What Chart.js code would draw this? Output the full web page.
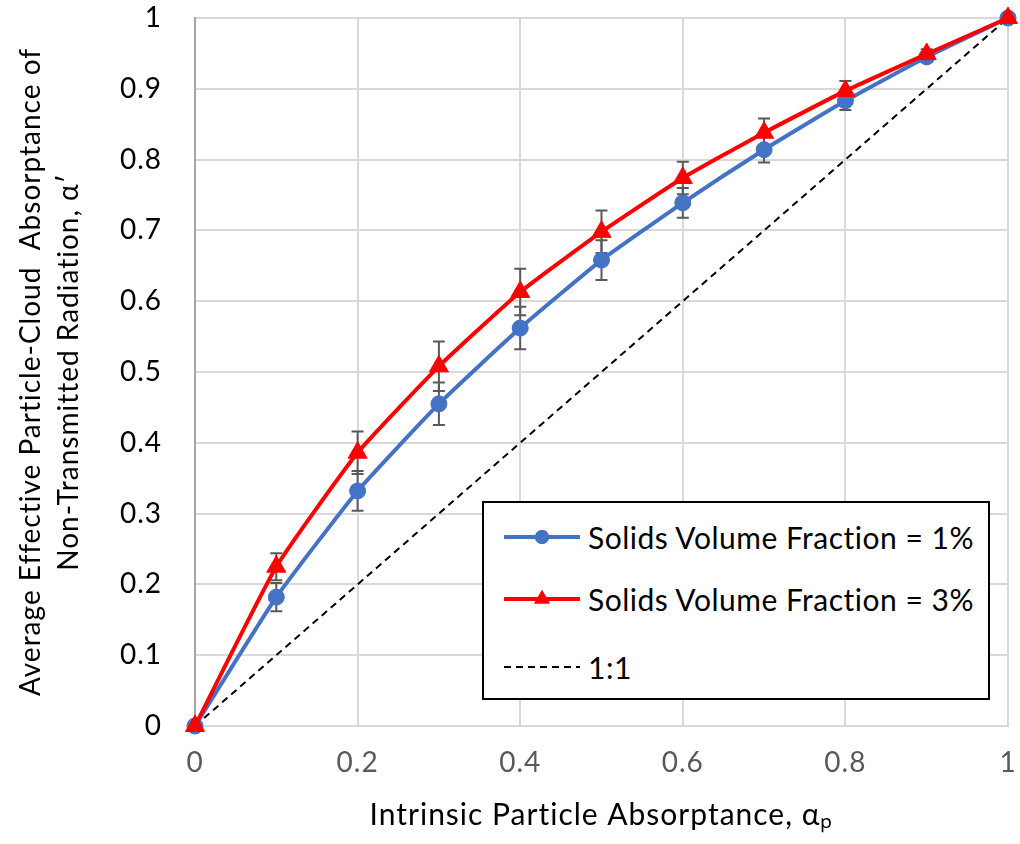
<!DOCTYPE html>
<html lang="en">
<head>
<meta charset="UTF-8">
<script src="https://cdn.jsdelivr.net/npm/chart.js@4.4.0/dist/chart.umd.min.js"></script>
<title>Absorptance</title>
<style>
  body { margin: 0; background: #fff; }
  #wrap { position: relative; width: 1020px; height: 844px; }
  #legend {
    position: absolute; left: 482px; top: 501px; width: 504px; height: 195px;
    border: 2px solid #000; background: #fff;
    font-family: Lato, "Liberation Sans", sans-serif; font-size: 30px; color: #000;
    letter-spacing: 0.5px;
  }
  .row { position: absolute; left: 20px; height: 30px; display: flex; align-items: center; }
  .row canvas { margin-right: 8px; }
</style>
</head>
<body>
<div id="wrap">
  <canvas id="myChart" width="1020" height="844"></canvas>
  <div id="legend"></div>
</div>
<script>
// x positions (intrinsic particle absorptance)
var xVals = [0, 0.1, 0.2, 0.3, 0.4, 0.5, 0.6, 0.7, 0.8, 0.9, 1];

// solids volume fraction 1%
var y1 = [0, 0.182, 0.332, 0.455, 0.562, 0.658, 0.739, 0.814, 0.883, 0.945, 1];
var err1 = [0, 0.02, 0.028, 0.03, 0.03, 0.028, 0.021, 0.018, 0.013, 0.007, 0];

// solids volume fraction 3%
var y3 = [0, 0.225, 0.386, 0.508, 0.613, 0.698, 0.774, 0.838, 0.897, 0.949, 1];
var err3 = [0, 0.019, 0.03, 0.035, 0.033, 0.03, 0.023, 0.02, 0.014, 0.007, 0];

// 1:1 line
var xRef = [0, 1];
var yRef = [0, 1];

var labels = ['Solids Volume Fraction = 1%', 'Solids Volume Fraction = 3%', '1:1'];

function pts(xs, ys) {
  return xs.map(function (x, i) { return { x: x, y: ys[i] }; });
}

// a bit of letter spacing on canvas text, the original text is set loosely
var spacing = {
  id: 'spacing',
  beforeDraw: function (chart) { chart.ctx.letterSpacing = '1px'; }
};

// draws the error bars under the markers, using the chart scales
var errorBars = {
  id: 'errorBars',
  beforeDatasetsDraw: function (chart) {
    var ctx = chart.ctx;
    var xs = chart.scales.x, ys = chart.scales.y;
    ctx.save();
    ctx.strokeStyle = '#595959';
    ctx.lineWidth = 2;
    [[y1, err1], [y3, err3]].forEach(function (s) {
      xVals.forEach(function (x, i) {
        var e = s[1][i];
        if (!e) return;
        var px = xs.getPixelForValue(x);
        var top = ys.getPixelForValue(s[0][i] + e);
        var bot = ys.getPixelForValue(s[0][i] - e);
        ctx.beginPath();
        ctx.moveTo(px, top); ctx.lineTo(px, bot);
        ctx.moveTo(px - 6, top); ctx.lineTo(px + 6, top);
        ctx.moveTo(px - 6, bot); ctx.lineTo(px + 6, bot);
        ctx.stroke();
      });
    });
    ctx.restore();
  }
};

var ctx = document.getElementById('myChart').getContext('2d');
var myChart = new Chart(ctx, {
  type: 'scatter',
  data: {
    datasets: [{
      label: labels[0],
      data: pts(xVals, y1),
      showLine: true,
      clip: false,
      borderColor: '#4472C4',
      backgroundColor: '#4472C4',
      borderWidth: 4,
      tension: 0.15,
      pointStyle: 'circle',
      pointRadius: 8,
      pointBorderWidth: 1,
      order: 2
    }, {
      label: labels[1],
      data: pts(xVals, y3),
      showLine: true,
      clip: false,
      borderColor: '#FF0000',
      backgroundColor: '#FF0000',
      borderWidth: 4,
      tension: 0.15,
      pointStyle: 'triangle',
      pointRadius: 11,
      pointBorderWidth: 1,
      order: 1
    }, {
      label: labels[2],
      data: pts(xRef, yRef),
      showLine: true,
      borderColor: '#000',
      borderWidth: 2,
      borderDash: [7, 5],
      pointRadius: 0,
      order: 3
    }]
  },
  options: {
    responsive: false,
    animation: false,
    layout: { padding: { top: 18, right: 10, left: 0, bottom: 0 } },
    plugins: { legend: { display: false }, tooltip: { enabled: false } },
    scales: {
      x: {
        min: 0, max: 1,
        afterFit: function (s) { s.height = 118; s.paddingLeft = 0; s.paddingRight = 0; },
        grid: { color: '#d9d9d9', lineWidth: 2, drawTicks: false },
        border: { color: '#d9d9d9', width: 2 },
        ticks: {
          stepSize: 0.2, padding: 20, color: '#595959',
          font: { family: 'Lato', size: 28 },
          callback: function (v) { return String(Math.round(v * 10) / 10); }
        },
        title: {
          display: true, text: 'Intrinsic Particle Absorptance, αₚ', color: '#000',
          font: { family: 'Lato', size: 30 }, padding: { top: 0, bottom: 11 }
        }
      },
      y: {
        min: 0, max: 1,
        afterFit: function (s) { s.width = 195; s.paddingTop = 0; s.paddingBottom = 0; },
        grid: { color: '#d9d9d9', lineWidth: 2, drawTicks: false },
        border: { color: '#a6a6a6', width: 2 },
        ticks: {
          stepSize: 0.1, padding: 33, color: '#000',
          font: { family: 'Lato', size: 28 },
          callback: function (v) { return String(Math.round(v * 10) / 10); }
        },
        title: {
          display: true,
          text: ['Average Effective Particle-Cloud  Absorptance of', 'Non-Transmitted Radiation, α′'],
          color: '#000',
          font: { family: 'Lato', size: 28, lineHeight: 1.35 }, padding: { top: 12, bottom: 0 }
        }
      }
    }
  },
  plugins: [spacing, errorBars]
});

// legend box built from the datasets
var leg = document.getElementById('legend');
var rowTops = [19, 81, 149];
myChart.data.datasets.forEach(function (ds, i) {
  var row = document.createElement('div');
  row.className = 'row';
  row.style.top = rowTops[i] + 'px';
  var c = document.createElement('canvas');
  c.width = 76; c.height = 30;
  var g = c.getContext('2d');
  g.strokeStyle = ds.borderColor;
  g.lineWidth = ds.borderWidth;
  if (ds.borderDash) g.setLineDash(ds.borderDash);
  g.beginPath(); g.moveTo(0, 15); g.lineTo(76, 15); g.stroke();
  g.setLineDash([]);
  if (ds.pointRadius) {
    g.fillStyle = ds.backgroundColor;
    Chart.helpers.drawPoint(g, { pointStyle: ds.pointStyle, radius: ds.pointStyle === 'triangle' ? 9 : 7, borderWidth: 0 }, 38, 15);
    g.fill();
  }
  row.appendChild(c);
  var t = document.createElement('span');
  t.textContent = ds.label;
  row.appendChild(t);
  leg.appendChild(row);
});
</script>
</body>
</html>
